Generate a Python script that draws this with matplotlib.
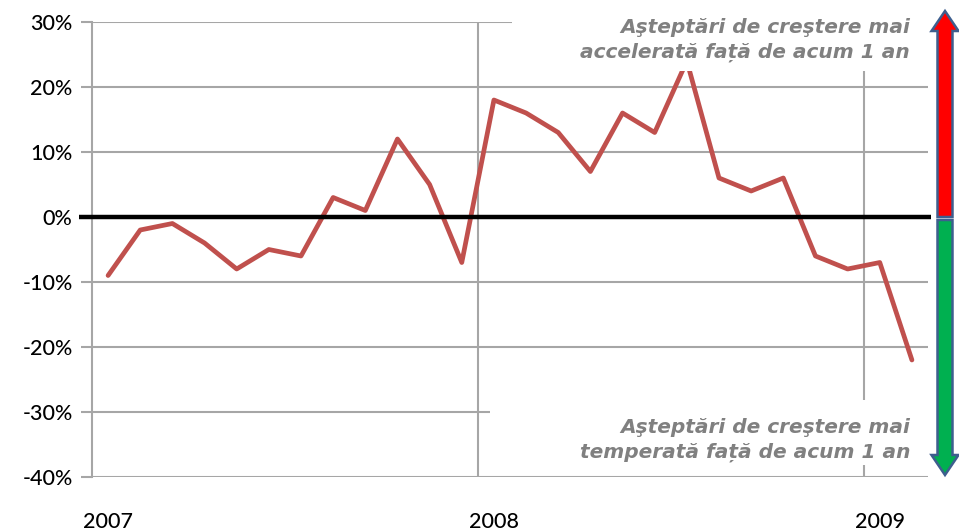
import matplotlib
matplotlib.use("Agg")
import matplotlib.pyplot as plt
from matplotlib.patches import FancyArrow, Rectangle
import numpy as np

# ---- data ----
values = [-9, -2, -1, -4, -8, -5, -6, 3, 1, 12, 5, -7,
          18, 16, 13, 7, 16, 13, 24, 6, 4, 6, -6, -8, -7, -22]
year_labels = ["2007", "2008", "2009"]
year_start_idx = [0, 12, 24]
y_ticks = [-40, -30, -20, -10, 0, 10, 20, 30]
text_up = "Aşteptări de creştere mai\naccelerată față de acum 1 an"
text_down = "Aşteptări de creştere mai\ntemperată față de acum 1 an"

W, H = 959, 531
fig = plt.figure(figsize=(W / 100, H / 100), dpi=100)

# axes in pixel coordinates: left 92, right 928, top 22, bottom 477
L, R, T, B = 92, 928, 22, 477
ax = fig.add_axes([L / W, 1 - B / H, (R - L) / W, (B - T) / H])

n = len(values)
x = np.arange(n) + 0.5
ax.set_xlim(0, n)
ax.set_ylim(-40, 30)

grid_c = "#A6A6A6"
for yv in y_ticks:
    ax.axhline(yv, color=grid_c, lw=1.5, zorder=1)
for xi in year_start_idx[1:]:
    ax.axvline(xi, color=grid_c, lw=1.5, zorder=1)

ax.plot(x, values, color="#C0504D", lw=3.4, solid_joinstyle="round",
        solid_capstyle="round", zorder=3)

# zero line, thick black
ax.plot([-0.016, 1.004], [0, 0], color="black", lw=3.2,
        transform=ax.get_yaxis_transform(), clip_on=False, zorder=4,
        solid_capstyle="butt")

for s in ["top", "right", "bottom"]:
    ax.spines[s].set_visible(False)
ax.spines["left"].set_color(grid_c)
ax.spines["left"].set_linewidth(1.5)

tick_font = dict(family=["Lato", "DejaVu Sans"], size=15.5, weight="medium")
ax.set_yticks(y_ticks)
ax.set_yticklabels([f"{v}%" for v in y_ticks], **tick_font)
ax.tick_params(axis="y", direction="out", length=8, width=1.5, color=grid_c, pad=6)
ax.set_xticks([i + 0.5 for i in year_start_idx])
ax.set_xticklabels(year_labels, **tick_font)
ax.tick_params(axis="x", length=0, pad=25)

# overlay in pixel coordinates
ov = fig.add_axes([0, 0, 1, 1])
ov.set_xlim(0, W)
ov.set_ylim(H, 0)
ov.axis("off")
ov.patch.set_alpha(0)

# white text boxes
ov.add_patch(Rectangle((512, 0), 418, 71, facecolor="white", edgecolor="none", zorder=5))
ov.add_patch(Rectangle((490, 400), 440, 65, facecolor="white", edgecolor="none", zorder=5))

ann_font = dict(family=["DejaVu Sans"], size=14.5, weight="bold", style="italic",
                color="#808080", ha="right", va="center", linespacing=1.35, zorder=6)
ov.text(910, 40, text_up, **ann_font)
ov.text(910, 440, text_down, **ann_font)

# arrows
edge = "#3E5E8E"
ov.add_patch(FancyArrow(945, 217, 0, -206, width=15, head_width=27, head_length=20,
                        length_includes_head=True, facecolor="#FF0000", edgecolor=edge,
                        lw=1.8, zorder=7))
ov.add_patch(FancyArrow(945, 220, 0, 255, width=15, head_width=27, head_length=20,
                        length_includes_head=True, facecolor="#00B050", edgecolor=edge,
                        lw=1.8, zorder=7))

fig.savefig("out.png", dpi=100)
